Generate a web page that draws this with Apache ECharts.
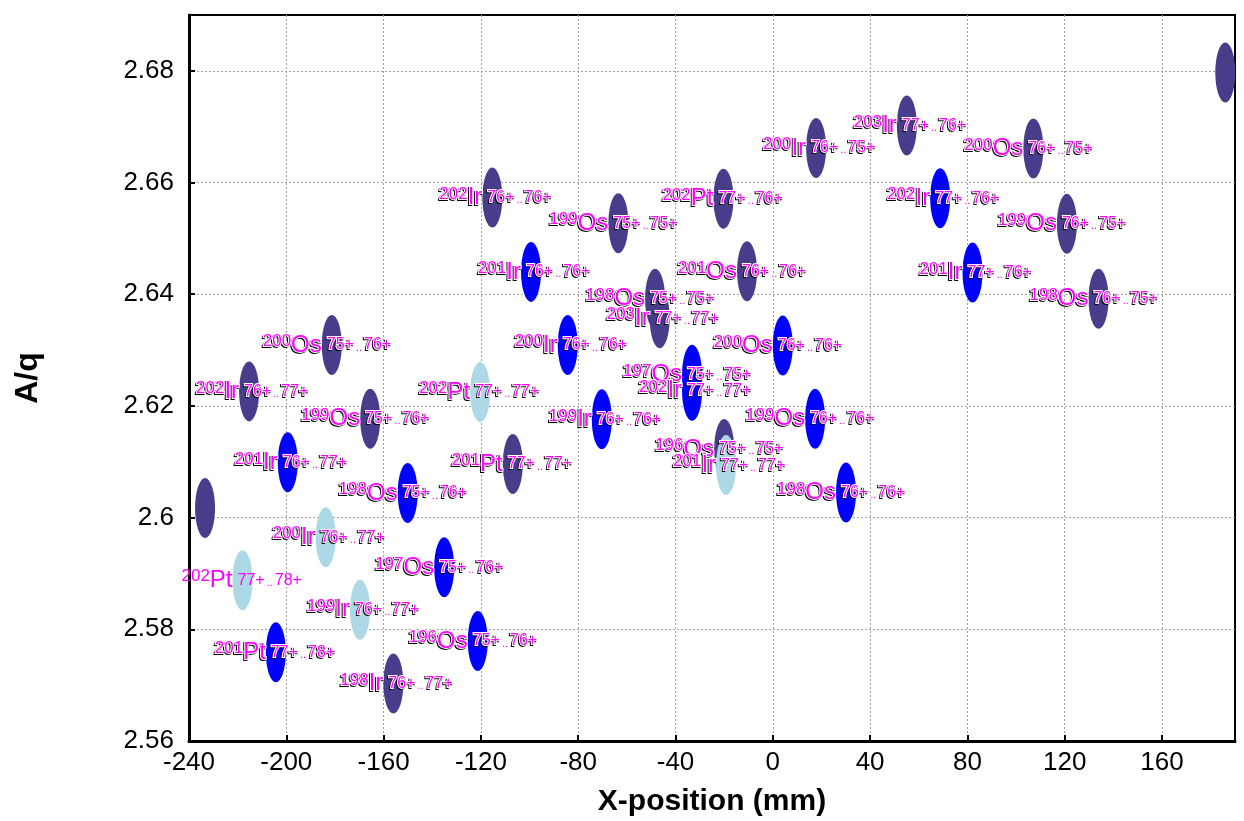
<!DOCTYPE html>
<html>
<head>
<meta charset="utf-8">
<title>A/q vs X-position</title>
<script src="https://cdn.jsdelivr.net/npm/echarts@6/dist/echarts.min.js"></script>
<style>
	html, body { margin: 0; padding: 0; background: #fff; }
	#main { width: 1244px; height: 821px; }
</style>
</head>
<body>
<div id="main"></div>
<script>
// 数据：每个椭圆的位置、同位素、电荷态
const xPos = [186, 55.1, 17.8, 107.1, -115.3, -63.5, -20.3, 68.8, 120.9, -99.4,
	-10.6, 82.1, -48.4, -46.5, 133.9, -84.3, -181.3, 4.1, -33.2, -33.2,
	-120.3, -215.3, -165.5, -70.3, 17.4, -199.4, -106.9, -20.0, -19.2, -150.1,
	30.1, -233.4, -183.8, -135.1, -218.0, -169.7, -121.3, -204.3, -156.0];
const aq = [2.6797, 2.6702, 2.6662, 2.6661, 2.6573, 2.6527, 2.6571, 2.6572, 2.6526, 2.6440,
	2.6441, 2.6439, 2.6392, 2.6357, 2.6392, 2.6309, 2.6309, 2.6308, 2.6256, 2.6227,
	2.6225, 2.6226, 2.6177, 2.6176, 2.6177, 2.6099, 2.6096, 2.6123, 2.6094, 2.6044,
	2.6045, 2.6017, 2.5965, 2.5911, 2.5888, 2.5835, 2.5779, 2.5759, 2.5703];
const massNum = [null, 203, 200, 200, 202, 199, 202, 202, 199, 201,
	201, 201, 198, 203, 198, 200, 200, 200, 197, 202,
	202, 202, 199, 199, 199, 201, 201, 196, 201, 198,
	198, null, 200, 197, 202, 199, 196, 201, 198];
const element = ['', 'Ir', 'Ir', 'Os', 'Ir', 'Os', 'Pt', 'Ir', 'Os', 'Ir',
	'Os', 'Ir', 'Os', 'Ir', 'Os', 'Ir', 'Os', 'Os', 'Os', 'Ir',
	'Pt', 'Ir', 'Os', 'Ir', 'Os', 'Ir', 'Pt', 'Os', 'Ir', 'Os',
	'Os', '', 'Ir', 'Os', 'Pt', 'Ir', 'Os', 'Pt', 'Ir'];
const qFrom = ['', '77+', '76+', '76+', '76+', '75+', '77+', '77+', '76+', '76+',
	'76+', '77+', '75+', '77+', '76+', '76+', '75+', '76+', '75+', '77+',
	'77+', '76+', '75+', '76+', '76+', '76+', '77+', '75+', '77+', '75+',
	'76+', '', '76+', '75+', '77+', '76+', '75+', '77+', '76+'];
const qTo = ['', '76+', '75+', '75+', '76+', '75+', '76+', '76+', '75+', '76+',
	'76+', '76+', '75+', '77+', '75+', '76+', '76+', '76+', '75+', '77+',
	'77+', '77+', '76+', '76+', '76+', '77+', '77+', '75+', '77+', '76+',
	'76+', '', '77+', '76+', '78+', '77+', '76+', '78+', '77+'];
// 0 深紫  1 蓝  2 浅蓝
const group = [0, 0, 0, 0, 0, 0, 0, 1, 0, 1,
	0, 1, 0, 0, 0, 1, 0, 1, 1, 1,
	2, 0, 0, 1, 1, 1, 0, 0, 2, 1,
	1, 0, 2, 1, 2, 2, 1, 1, 0];

const groupColors = ['#483d8b', '#0000ff', '#add8e6'];
const plainIdx = 34; // 这一个标签没有描边
const font = 'Liberation Sans, Arial, sans-serif';

// layer: 'shadow' 黑色底影, 'top' 品红+白边, 'plain' 只有品红
function txt(size, va, layer, isDot) {
	let s = {
		fontFamily: font,
		fontSize: size,
		color: '#ff00ff',
		verticalAlign: va,
		lineHeight: size
	};
	if (isDot) s.padding = [0, 2, 0, 2];
	if (layer === 'shadow') {
		s.color = isDot ? 'rgba(0,0,0,0)' : '#000';
		if (!isDot) {
			s.textBorderColor = '#000';
			s.textBorderWidth = 2;
		}
	} else if (layer === 'top') {
		s.textBorderColor = '#fff';
		s.textBorderWidth = 2;
	}
	return s;
}
function richSet(layer) {
	return {
		m: txt(17, 'top', layer),
		e: txt(24, 'top', layer),
		q: txt(16, 'bottom', layer),
		d: txt(11, 'bottom', layer, true)
	};
}

let ellipseSeries = groupColors.map((c, g) => {
	let pts = [];
	xPos.forEach((x, i) => {
		if (group[i] === g) pts.push([x, aq[i]]);
	});
	return {
		type: 'scatter',
		symbol: 'circle',
		symbolSize: [20, 60],
		itemStyle: { color: c, opacity: 1 },
		data: pts,
		z: 2,
		silent: true
	};
});

// 标签数据：左侧同位素、右侧电荷态，分两层画描边效果
function labelData(kind, layer) {
	let out = [];
	xPos.forEach((x, i) => {
		if (massNum[i] === null) return;
		let ly = layer;
		if (i === plainIdx) {
			if (layer === 'shadow') return;
			ly = 'plain';
		}
		let fmt = kind === 'iso'
			? `{m|${massNum[i]}}{e|${element[i]}}`
			: `{q|${qFrom[i]}}{d|..}{q|${qTo[i]}}`;
		out.push({
			value: [x, aq[i]],
			label: { formatter: fmt, rich: richSet(ly) }
		});
	});
	return out;
}

function labelSeries(kind, layer) {
	let shadow = layer === 'shadow';
	return {
		type: 'scatter',
		symbol: 'circle',
		symbolSize: [20, 60],
		itemStyle: { color: 'rgba(0,0,0,0)', opacity: 1 },
		z: shadow ? 8 : 10,
		silent: true,
		data: labelData(kind, layer),
		label: {
			show: true,
			position: kind === 'iso' ? 'left' : 'right',
			distance: kind === 'iso' ? 0 : -15,
			offset: shadow ? [-1, 1] : [0, 0]
		}
	};
}

let axisFont = { fontFamily: font, fontSize: 26, color: '#000' };
let gridLine = { show: true, showMaxLine: false, lineStyle: { color: '#a0a0a0', type: [2, 2], width: 1 } };

let option = {
	animation: false,
	backgroundColor: '#fff',
	grid: {
		left: 189,
		right: 9,
		top: 15,
		bottom: 80,
		outerBoundsMode: 'none',
		containLabel: false,
		show: true,
		borderColor: '#000',
		borderWidth: 2
	},
	xAxis: {
		type: 'value',
		min: -240,
		max: 190,
		interval: 40,
		name: 'X-position (mm)',
		nameLocation: 'middle',
		nameGap: 46,
		nameTextStyle: { fontFamily: font, fontSize: 30, fontWeight: 'bold', color: '#000' },
		axisLine: { show: true, onZero: false, lineStyle: { color: '#000', width: 3 } },
		axisTick: { show: true, inside: true, length: 6, lineStyle: { color: '#000', width: 2 } },
		axisLabel: Object.assign({ margin: 9, showMaxLabel: false }, axisFont),
		splitLine: gridLine
	},
	yAxis: {
		type: 'value',
		min: 2.56,
		max: 2.69,
		interval: 0.02,
		name: 'A/q',
		nameLocation: 'middle',
		nameGap: 145,
		nameTextStyle: { fontFamily: font, fontSize: 32, fontWeight: 'bold', color: '#000' },
		axisLine: { show: true, onZero: false, lineStyle: { color: '#000', width: 3 } },
		axisTick: { show: true, inside: true, length: 6, lineStyle: { color: '#000', width: 2 } },
		axisLabel: Object.assign({ margin: 15, showMaxLabel: false }, axisFont),
		splitLine: gridLine
	},
	series: ellipseSeries.concat([
		labelSeries('iso', 'shadow'),
		labelSeries('charge', 'shadow'),
		labelSeries('iso', 'top'),
		labelSeries('charge', 'top')
	])
};

let myChart = echarts.init(document.getElementById('main'));
myChart.setOption(option);
</script>
</body>
</html>
